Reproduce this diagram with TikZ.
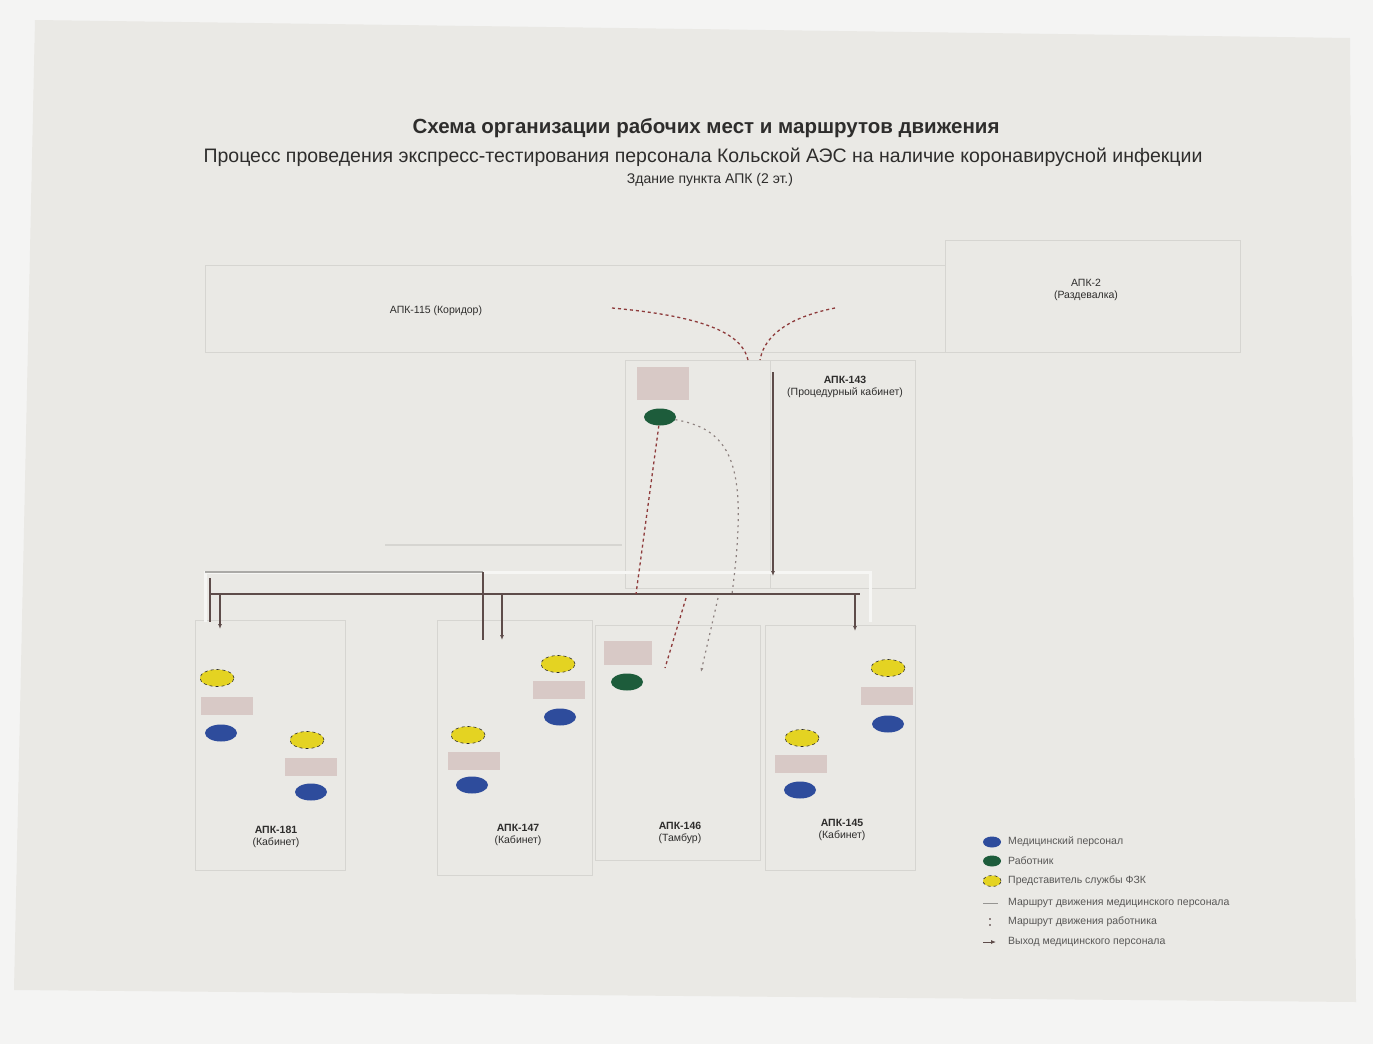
\documentclass[tikz,border=0pt]{standalone}
\usepackage{fontspec}
\setmainfont{Liberation Sans}
\usetikzlibrary{shapes.geometric,arrows.meta}
\definecolor{wall}{HTML}{F4F4F3}
\definecolor{paper}{HTML}{EAE9E5}
\definecolor{roomline}{HTML}{D6D5D1}
\definecolor{txt}{HTML}{2E2D2C}
\definecolor{pinkbox}{HTML}{D8C9C6}
\definecolor{yel}{HTML}{E4D322}
\definecolor{blu}{HTML}{2E4C9C}
\definecolor{grn}{HTML}{1D5C3B}
\definecolor{dkline}{HTML}{5E4C4A}
\definecolor{rdash}{HTML}{8E3B3B}
\definecolor{ltline}{HTML}{F6F6F4}
\tikzset{
  roombox/.style={draw=roomline, line width=1.3pt, anchor=north west, inner sep=0pt},
  pbox/.style={fill=pinkbox, minimum width=52pt, minimum height=18pt, inner sep=0pt},
  yell/.style={ellipse, fill=yel, draw=txt, dashed, line width=0.6pt, minimum width=34pt, minimum height=17pt, inner sep=0pt},
  bell/.style={ellipse, fill=blu, minimum width=32pt, minimum height=17pt, inner sep=0pt},
  gell/.style={ellipse, fill=grn, minimum width=32pt, minimum height=17pt, inner sep=0pt},
  lbl/.style={text=txt, font=\fontsize{10.5}{12}\selectfont, align=center},
  dkroute/.style={draw=dkline, line width=1.4pt},
  dkarrow/.style={draw=dkline, line width=1.2pt, -{Latex[length=5pt,width=4pt]}},
  lroute/.style={draw=ltline, line width=3pt},
  gline/.style={draw=roomline, line width=1.3pt},
  rdashed/.style={draw=rdash, line width=1.3pt, dashed},
  ddotted/.style={draw=dkline!70, line width=1.2pt, dash pattern=on 2pt off 4pt},
  legtxt/.style={text=txt!80, font=\fontsize{10.5}{12}\selectfont, anchor=west, inner sep=0pt}
}
\begin{document}
\begin{tikzpicture}[x=1pt,y=-1pt]
\useasboundingbox (0,0) rectangle (1373,1044);
\fill[wall] (0,0) rectangle (1373,1044);
\fill[paper] (35,20) -- (1350,38) -- (1356,1002) -- (14,990) -- cycle;

% titles
\node[text=txt, font=\bfseries\fontsize{20.5}{24}\selectfont] (title) at (706,128) {Схема организации рабочих мест и маршрутов движения};
\node[text=txt, font=\fontsize{19.5}{22}\selectfont] (sub) at (703,157) {Процесс проведения экспресс-тестирования персонала Кольской АЭС на наличие коронавирусной инфекции};
\node[text=txt, font=\fontsize{14}{16}\selectfont] (sub2) at (710,180) {Здание пункта АПК (2 эт.)};

% rooms
\node[roombox, minimum width=740pt, minimum height=87pt] (r115) at (205,265) {};
\node[lbl] (l115) at (436,311) {АПК-115 (Коридор)};
\node[roombox, minimum width=295pt, minimum height=112pt] (r2) at (945,240) {};
\node[lbl] (l2) at (1086,290) {АПК-2\\(Раздевалка)};
\node[roombox, minimum width=145pt, minimum height=228pt] (rg) at (625,360) {};
\node[roombox, minimum width=145pt, minimum height=228pt] (r143) at (770,360) {};
\node[lbl] (l143) at (845,387) {\bfseries АПК-143\\(Процедурный кабинет)};

\node[roombox, minimum width=150pt, minimum height=250pt] (r181) at (195,620) {};
\node[lbl] (l181) at (276,837) {\bfseries АПК-181\\(Кабинет)};
\node[roombox, minimum width=155pt, minimum height=255pt] (r147) at (437,620) {};
\node[lbl] (l147) at (518,835) {\bfseries АПК-147\\(Кабинет)};
\node[roombox, minimum width=165pt, minimum height=235pt] (r146) at (595,625) {};
\node[lbl] (l146) at (680,833) {\bfseries АПК-146\\(Тамбур)};
\node[roombox, minimum width=150pt, minimum height=245pt] (r145) at (765,625) {};
\node[lbl] (l145) at (842,830) {\bfseries АПК-145\\(Кабинет)};

% workplaces
\node[pbox, minimum width=52pt, minimum height=33pt] (pg) at (663,383) {};
\node[gell] (g1) at (660,417) {};

\node[yell] (y1) at (217,678) {};
\node[pbox] (p1) at (227,706) {};
\node[bell] (b1) at (221,733) {};
\node[yell] (y2) at (307,740) {};
\node[pbox] (p2) at (311,767) {};
\node[bell] (b2) at (311,792) {};

\node[yell] (y3) at (468,735) {};
\node[pbox] (p3) at (474,761) {};
\node[bell] (b3) at (472,785) {};
\node[yell] (y4) at (558,664) {};
\node[pbox] (p4) at (559,690) {};
\node[bell] (b4) at (560,717) {};

\node[pbox, minimum width=48pt, minimum height=24pt] (p5) at (628,653) {};
\node[gell] (g2) at (627,682) {};

\node[yell] (y5) at (802,738) {};
\node[pbox] (p6) at (801,764) {};
\node[bell] (b5) at (800,790) {};
\node[yell] (y6) at (888,668) {};
\node[pbox] (p7) at (887,696) {};
\node[bell] (b6) at (888,724) {};

% route coordinates
\coordinate (c1) at (773,372);
\coordinate (c2) at (773,576);
\coordinate (k1) at (205,622);
\coordinate (k2) at (205,572);
\coordinate (k3) at (870,572);
\coordinate (k4) at (870,622);
\coordinate (d1) at (210,594);
\coordinate (d2) at (860,594);
\coordinate (e1) at (220,594);
\coordinate (e2) at (220,629);
\coordinate (e3) at (483,572);
\coordinate (e4) at (483,640);
\coordinate (e5) at (502,594);
\coordinate (e6) at (502,640);
\coordinate (e7) at (855,594);
\coordinate (e8) at (855,631);
\coordinate (f1) at (210,578);
\coordinate (f2) at (210,622);
\coordinate (h1) at (385,545);
\coordinate (h2) at (622,545);
\coordinate (t1) at (612,308);
\coordinate (t2) at (748,360);
\coordinate (t3) at (835,308);
\coordinate (t4) at (760,360);
\coordinate (m1) at (636,594);
\coordinate (m2) at (732,594);
\coordinate (n1) at (686,598);
\coordinate (n2) at (665,668);
\coordinate (n3) at (718,598);
\coordinate (n4) at (701,672);

% routes
\draw[gline] (h1) -- (h2);
\draw[lroute] (k1) -- (k2) -- (k3) -- (k4);
\draw[draw=roomline!80!black, line width=1.2pt] (k2) -- (e3);
\draw[dkroute] (d1) -- (d2);
\draw[dkarrow] (c1) -- (c2);
\draw[dkarrow] (e1) -- (e2);
\draw[dkroute] (f1) -- (f2);
\draw[dkroute] (e3) -- (e4);
\draw[dkarrow] (e5) -- (e6);
\draw[dkarrow] (e7) -- (e8);
\draw[rdashed] (t1) .. controls (700,316) and (742,332) .. (t2);
\draw[rdashed] (t3) .. controls (795,316) and (765,332) .. (t4);
\draw[rdashed] (g1) -- (m1);
\draw[ddotted] (g1) .. controls (735,430) and (748,470) .. (m2);
\draw[rdashed] (n1) -- (n2);
\draw[ddotted, -{Latex[length=4pt]}] (n3) -- (n4);

% legend
\node[bell, minimum width=18pt, minimum height=11pt] (lg1) at (992,842) {};
\node[legtxt] (lt1) at (1008,842) {Медицинский персонал};
\node[gell, minimum width=18pt, minimum height=11pt] (lg2) at (992,861) {};
\node[legtxt] (lt2) at (1008,861) {Работник};
\node[yell, minimum width=18pt, minimum height=11pt] (lg3) at (992,881) {};
\node[legtxt] (lt3) at (1008,881) {Представитель службы ФЗК};
\coordinate (lg4a) at (983,903);
\coordinate (lg4b) at (998,903);
\draw[draw=roomline!70!black, line width=1pt] (lg4a) -- (lg4b);
\node[legtxt] (lt4) at (1008,903) {Маршрут движения медицинского персонала};
\coordinate (lg5a) at (990,918);
\coordinate (lg5b) at (990,926);
\draw[ddotted] (lg5a) -- (lg5b);
\node[legtxt] (lt5) at (1008,922) {Маршрут движения работника};
\coordinate (lg6a) at (983,942);
\coordinate (lg6b) at (996,942);
\draw[dkarrow, line width=0.8pt] (lg6a) -- (lg6b);
\node[legtxt] (lt6) at (1008,942) {Выход медицинского персонала};
\end{tikzpicture}
\end{document}
